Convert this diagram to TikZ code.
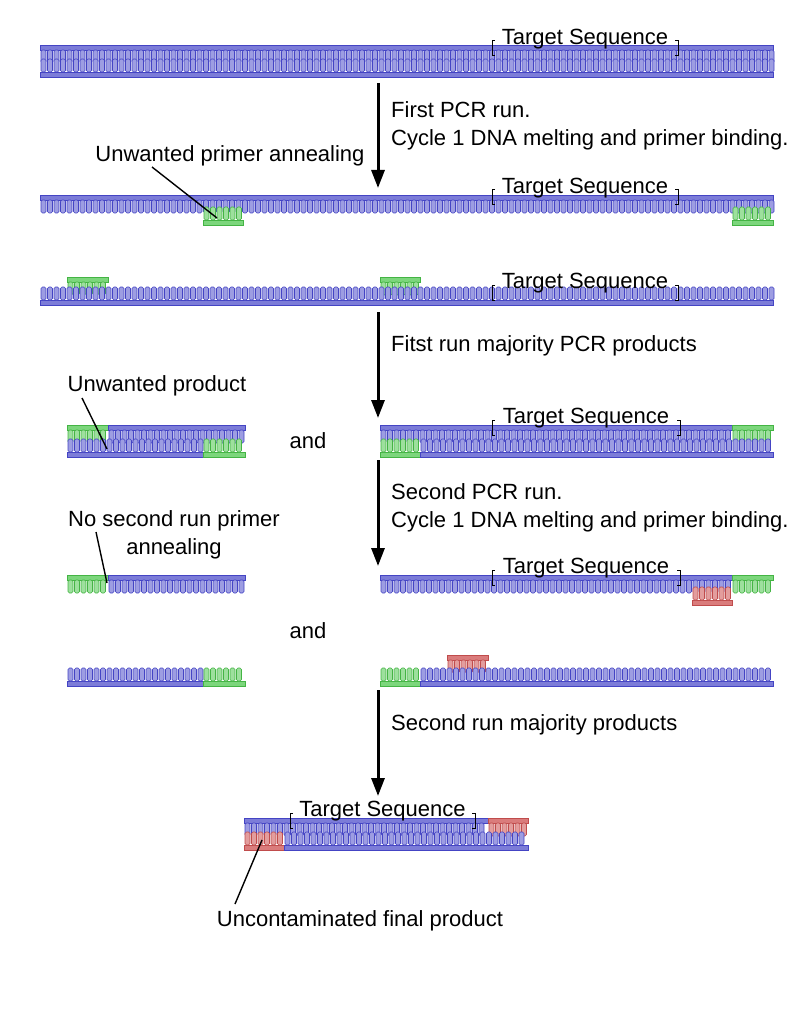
\documentclass[tikz,border=0pt]{standalone}
\usepackage{fontspec}
\setmainfont{Liberation Sans}
\usetikzlibrary{positioning,arrows.meta}

\definecolor{bluefill}{HTML}{7C7CD8}
\definecolor{blueline}{HTML}{4444C4}
\definecolor{greenfill}{HTML}{7CD67C}
\definecolor{greenline}{HTML}{44B444}
\definecolor{redfill}{HTML}{DA7C7C}
\definecolor{redline}{HTML}{C04C4C}

% strand with backbone on top, bases hanging down
\newcommand{\strandT}[4]{%
  \fill[#4fill,draw=#4line,line width=.8] (#1,#3) rectangle (#2,#3+5);
  \pgfmathtruncatemacro{\nb}{(#2-#1-5)/6.5}
  \foreach \i in {0,...,\nb}{
    \draw[#4line,fill=#4fill!75,line width=.6,rounded corners=1.5]
      (#1+1+\i*6.5,#3+5) rectangle (#1+6+\i*6.5,#3+18);}
}
% strand with backbone at the bottom, bases pointing up
\newcommand{\strandB}[4]{%
  \fill[#4fill,draw=#4line,line width=.8] (#1,#3-5) rectangle (#2,#3);
  \pgfmathtruncatemacro{\nb}{(#2-#1-5)/6.5}
  \foreach \i in {0,...,\nb}{
    \draw[#4line,fill=#4fill!75,line width=.6,rounded corners=1.5]
      (#1+1+\i*6.5,#3-5) rectangle (#1+6+\i*6.5,#3-18);}
}
% target sequence bracket
\newcommand{\target}[4]{%
  \node[txt] (#4) at ({(#1+#2)/2},#3) {Target Sequence};
  \draw[line width=1] (#1+3,#3+2) -- (#1,#3+2) -- (#1,#3+17) -- (#1+3,#3+17);
  \draw[line width=1] (#2-3,#3+2) -- (#2,#3+2) -- (#2,#3+17) -- (#2-3,#3+17);
}

\begin{document}
\begin{tikzpicture}[x=1pt,y=-1pt,
  txt/.style={inner sep=1pt,font=\fontsize{22}{28}\selectfont},
  runarrow/.style={-{Triangle[length=18,width=13]},line width=3},
  pointer/.style={line width=1.4}]
\useasboundingbox (0,0) rectangle (811,1024);

%row 1
\strandT{40}{773}{45}{blue}
\strandB{40}{773}{77}{blue}
\target{492}{678}{39}{t1}

\coordinate (a1s) at (378,83);
\coordinate (a1e) at (378,188);
\draw[runarrow] (a1s) -- (a1e);
\node[txt,anchor=west,align=left] (s1) at (390,126) {First PCR run.\\Cycle 1 DNA melting and primer binding.};

%row 2
\strandT{40}{773}{195}{blue}
\strandB{203}{243}{225}{green}
\strandB{732}{773}{225}{green}
\target{492}{678}{188}{t2}
\node[txt] (l1) at (230,156) {Unwanted primer annealing};
\coordinate (p1) at (217,218);
\draw[pointer] (152,167) -- (p1);

%row 3
\strandT{67}{108}{277}{green}
\strandT{380}{420}{277}{green}
\strandB{40}{773}{305}{blue}
\target{492}{678}{283}{t3}

\coordinate (a2s) at (378,312);
\coordinate (a2e) at (378,418);
\draw[runarrow] (a2s) -- (a2e);
\node[txt,anchor=west] (s2) at (390,346) {Fitst run majority PCR products};

%row 4
\strandT{67}{108}{425}{green}
\strandT{108}{245}{425}{blue}
\strandB{67}{203}{457}{blue}
\strandB{203}{245}{457}{green}
\node[txt] (l2) at (157,386) {Unwanted product};
\coordinate (p2) at (107,449);
\draw[pointer] (82,398) -- (p2);
\node[txt] (and1) at (308,441) {and};
\strandT{380}{732}{425}{blue}
\strandT{732}{773}{425}{green}
\strandB{380}{420}{457}{green}
\strandB{420}{773}{457}{blue}
\target{492}{680}{418}{t4}

\coordinate (a3s) at (378,460);
\coordinate (a3e) at (378,566);
\draw[runarrow] (a3s) -- (a3e);
\node[txt,anchor=west,align=left] (s3) at (390,508) {Second PCR run.\\Cycle 1 DNA melting and primer binding.};

%row 5
\strandT{67}{108}{575}{green}
\strandT{108}{245}{575}{blue}
\node[txt,align=center] (l3) at (174,535) {No second run primer\\annealing};
\coordinate (p3) at (107,583);
\draw[pointer] (96,532) -- (p3);
\strandT{380}{732}{575}{blue}
\strandT{732}{773}{575}{green}
\strandB{692}{732}{605}{red}
\target{492}{680}{568}{t5}

\node[txt] (and2) at (308,631) {and};

%row 6
\strandB{67}{203}{686}{blue}
\strandB{203}{245}{686}{green}
\strandT{447}{488}{655}{red}
\strandB{380}{420}{686}{green}
\strandB{420}{773}{686}{blue}

\coordinate (a4s) at (378,690);
\coordinate (a4e) at (378,796);
\draw[runarrow] (a4s) -- (a4e);
\node[txt,anchor=west] (s4) at (390,725) {Second run majority products};

%row 7
\strandT{244}{488}{818}{blue}
\strandT{488}{528}{818}{red}
\strandB{244}{284}{850}{red}
\strandB{284}{528}{850}{blue}
\target{290}{475}{811}{t6}
\node[txt] (l4) at (360,921) {Uncontaminated final product};
\coordinate (p4) at (262,840);
\draw[pointer] (235,904) -- (p4);
\end{tikzpicture}
\end{document}
